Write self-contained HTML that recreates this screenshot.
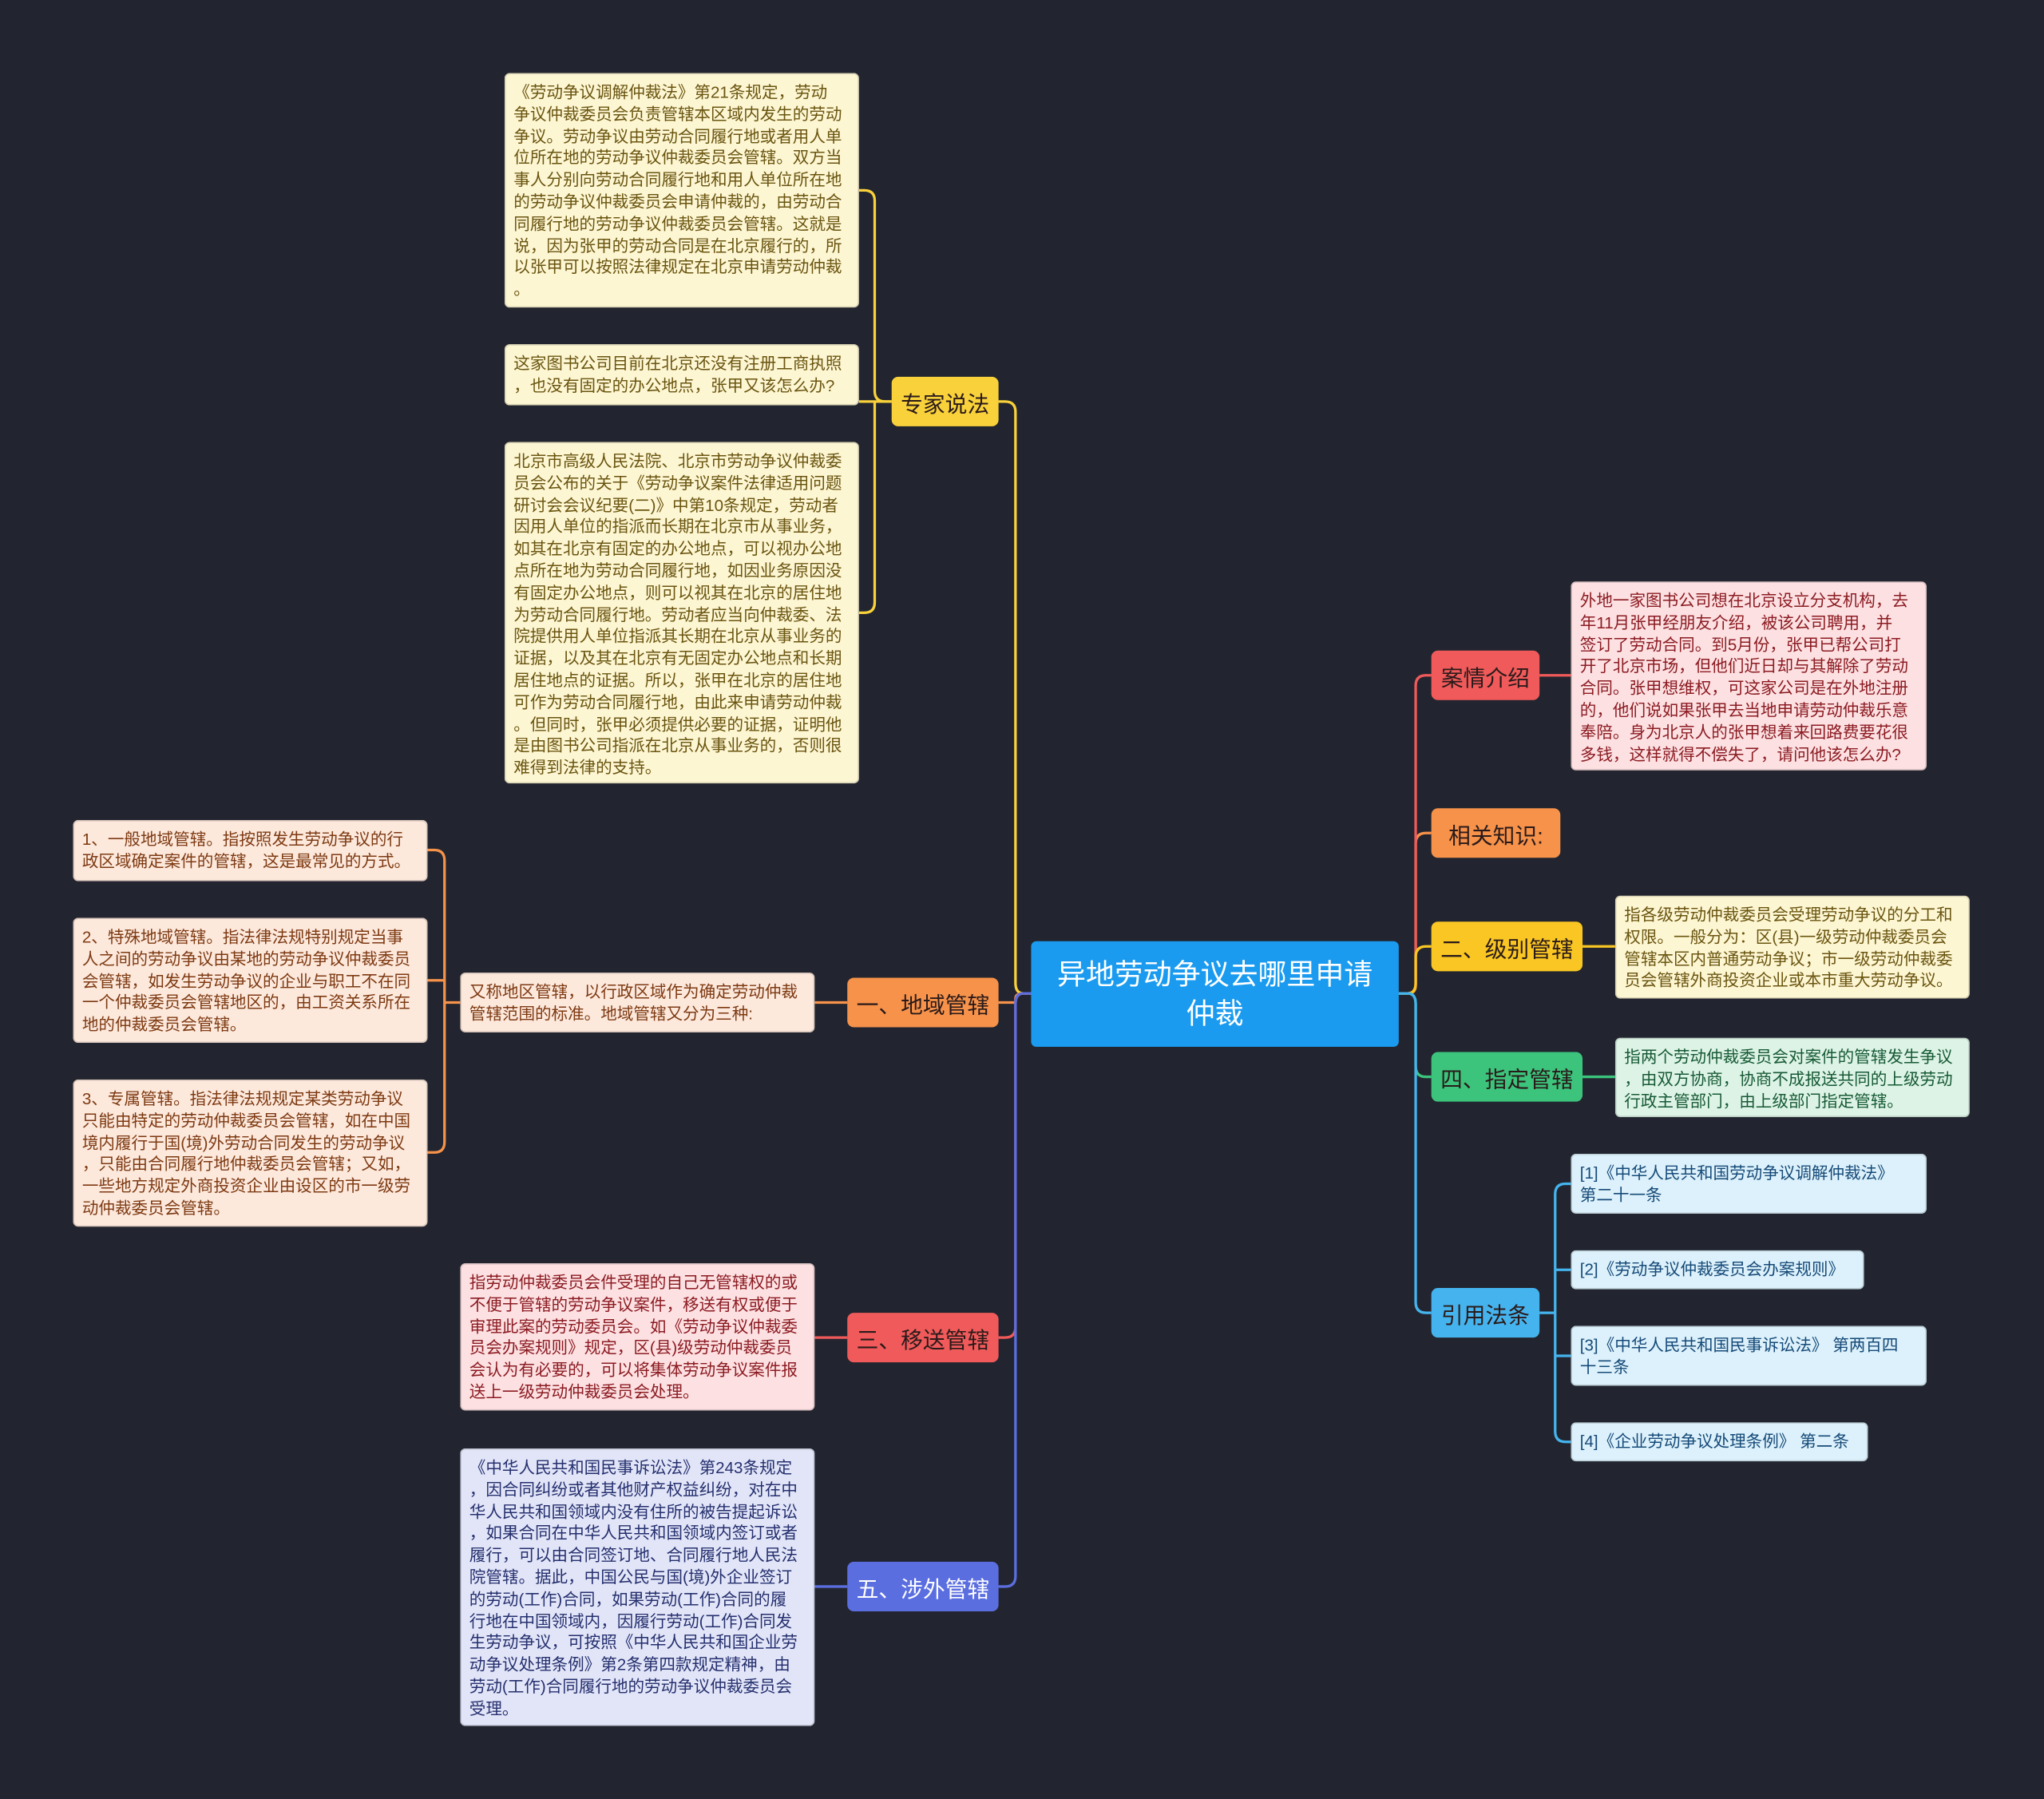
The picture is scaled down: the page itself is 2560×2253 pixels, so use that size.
<!DOCTYPE html>
<html><head><meta charset="utf-8"><style>
html,body{margin:0;padding:0;background:#22252f;width:2560px;height:2253px;overflow:hidden}
#s{position:absolute;left:0;top:0;width:1568px;height:1380px;transform:scale(1.63265);transform-origin:0 0;font-family:"Liberation Sans","Noto Sans CJK SC",sans-serif}
.n{position:absolute;box-sizing:border-box;border-radius:5px;display:flex;align-items:center;justify-content:center;font-size:17px;color:#2a1a1a;white-space:nowrap}
.l{position:absolute;box-sizing:border-box;border-radius:4px;font-size:12.6px;line-height:16.8px;padding:6px 6px;white-space:nowrap;overflow:hidden;border:1px solid rgba(0,0,0,0.15)}
.y{background:#fdf6d3;color:#6a5510}
.o{background:#fde8dc;color:#7d3a12}
.r{background:#fde0e2;color:#8b1c22}
.p{background:#e2e5f8;color:#25306e}
.g{background:#dcf3e6;color:#175a35}
.b{background:#dcf1fb;color:#164a78}
</style></head><body><div id="s">
<svg width="1568" height="1380" style="position:absolute;left:0;top:0" fill="none" stroke-width="2">
<g stroke="#f9d13a">
<path d="M791,762 H785 Q779,762 779,754 V316 Q779,308 771,308 H766"/>
<path d="M684,308 H679 Q671,308 671,300 V154 Q671,146 663,146 H659"/>
<path d="M684,308 H659 M671,308 V462 Q671,470 663,470 H659"/>
</g>
<g stroke="#f6924a">
<path d="M791,762 H785 Q779,762 779,766 V769 H766"/>
<path d="M650,769 H625"/>
<path d="M353,769 H341 V660 Q341,652 333,652 H328 M341,760 V752 H328 M341,769 V876 Q341,884 333,884 H328"/>
<path d="M1073,762 H1080 Q1086,762 1086,756 V647 Q1086,639 1094,639 H1098"/>
</g>
<g stroke="#f05a5a">
<path d="M791,762 H785 Q779,762 779,770 V1018 Q779,1026 771,1026 H766"/>
<path d="M650,1026 H625"/>
<path d="M1073,762 H1080 Q1086,762 1086,754 V526 Q1086,518 1094,518 H1098"/>
<path d="M1181,518 H1205"/>
</g>
<g stroke="#5b6ee0">
<path d="M791,762 H785 Q779,762 779,770 V1209 Q779,1217 771,1217 H766"/>
<path d="M650,1217 H625"/>
</g>
<g stroke="#f9c623">
<path d="M1073,762 H1080 Q1086,762 1086,754 V734 Q1086,726 1094,726 H1098"/>
<path d="M1214,726 H1239"/>
</g>
<g stroke="#3cc47c">
<path d="M1073,762 H1080 Q1086,762 1086,770 V818 Q1086,826 1094,826 H1098"/>
<path d="M1214,826 H1239"/>
</g>
<g stroke="#45b4ee">
<path d="M1073,762 H1080 Q1086,762 1086,770 V999 Q1086,1007 1094,1007 H1098"/>
<path d="M1181,1007 H1193 M1193,1007 V916 Q1193,908 1201,908 H1205 M1193,974 H1205 M1193,1040 H1205 M1193,1007 V1098 Q1193,1106 1201,1106 H1205"/>
</g>
</svg>

<div class="n" style="left:791px;top:722px;width:282px;height:81px;background:#1a9bef;color:#fff;font-size:22px;line-height:30px;white-space:normal;text-align:center;padding:0 12px;border-radius:4px">异地劳动争议去哪里申请<br>仲裁</div>

<div class="n" style="left:684px;top:289px;width:82px;height:38px;background:#f9d13a">专家说法</div>
<div class="n" style="left:650px;top:750px;width:116px;height:38px;background:#f6924a">一、地域管辖</div>
<div class="n" style="left:650px;top:1007px;width:116px;height:38px;background:#f05a5a">三、移送管辖</div>
<div class="n" style="left:650px;top:1198px;width:116px;height:38px;background:#5b6ee0;color:#fff">五、涉外管辖</div>
<div class="n" style="left:1098px;top:499px;width:83px;height:38px;background:#f05a5a">案情介绍</div>
<div class="n" style="left:1098px;top:620px;width:99px;height:38px;background:#f6924a">相关知识:</div>
<div class="n" style="left:1098px;top:707px;width:116px;height:38px;background:#f9c623">二、级别管辖</div>
<div class="n" style="left:1098px;top:807px;width:116px;height:38px;background:#3cc47c">四、指定管辖</div>
<div class="n" style="left:1098px;top:988px;width:83px;height:38px;background:#45b4ee">引用法条</div>

<div class="l y" style="left:387px;top:56px;width:272px;height:180px">《劳动争议调解仲裁法》第21条规定，劳动<br>争议仲裁委员会负责管辖本区域内发生的劳动<br>争议。劳动争议由劳动合同履行地或者用人单<br>位所在地的劳动争议仲裁委员会管辖。双方当<br>事人分别向劳动合同履行地和用人单位所在地<br>的劳动争议仲裁委员会申请仲裁的，由劳动合<br>同履行地的劳动争议仲裁委员会管辖。这就是<br>说，因为张甲的劳动合同是在北京履行的，所<br>以张甲可以按照法律规定在北京申请劳动仲裁<br>。</div>
<div class="l y" style="left:387px;top:264px;width:272px;height:47px">这家图书公司目前在北京还没有注册工商执照<br>，也没有固定的办公地点，张甲又该怎么办?</div>
<div class="l y" style="left:387px;top:339px;width:272px;height:262px">北京市高级人民法院、北京市劳动争议仲裁委<br>员会公布的关于《劳动争议案件法律适用问题<br>研讨会会议纪要(二)》中第10条规定，劳动者<br>因用人单位的指派而长期在北京市从事业务，<br>如其在北京有固定的办公地点，可以视办公地<br>点所在地为劳动合同履行地，如因业务原因没<br>有固定办公地点，则可以视其在北京的居住地<br>为劳动合同履行地。劳动者应当向仲裁委、法<br>院提供用人单位指派其长期在北京从事业务的<br>证据，以及其在北京有无固定办公地点和长期<br>居住地点的证据。所以，张甲在北京的居住地<br>可作为劳动合同履行地，由此来申请劳动仲裁<br>。但同时，张甲必须提供必要的证据，证明他<br>是由图书公司指派在北京从事业务的，否则很<br>难得到法律的支持。</div>

<div class="l o" style="left:353px;top:746px;width:272px;height:46px">又称地区管辖，以行政区域作为确定劳动仲裁<br>管辖范围的标准。地域管辖又分为三种:</div>
<div class="l o" style="left:56px;top:629px;width:272px;height:47px">1、一般地域管辖。指按照发生劳动争议的行<br>政区域确定案件的管辖，这是最常见的方式。</div>
<div class="l o" style="left:56px;top:704px;width:272px;height:96px">2、特殊地域管辖。指法律法规特别规定当事<br>人之间的劳动争议由某地的劳动争议仲裁委员<br>会管辖，如发生劳动争议的企业与职工不在同<br>一个仲裁委员会管辖地区的，由工资关系所在<br>地的仲裁委员会管辖。</div>
<div class="l o" style="left:56px;top:828px;width:272px;height:113px">3、专属管辖。指法律法规规定某类劳动争议<br>只能由特定的劳动仲裁委员会管辖，如在中国<br>境内履行于国(境)外劳动合同发生的劳动争议<br>，只能由合同履行地仲裁委员会管辖；又如，<br>一些地方规定外商投资企业由设区的市一级劳<br>动仲裁委员会管辖。</div>

<div class="l r" style="left:353px;top:969px;width:272px;height:113px">指劳动仲裁委员会件受理的自己无管辖权的或<br>不便于管辖的劳动争议案件，移送有权或便于<br>审理此案的劳动委员会。如《劳动争议仲裁委<br>员会办案规则》规定，区(县)级劳动仲裁委员<br>会认为有必要的，可以将集体劳动争议案件报<br>送上一级劳动仲裁委员会处理。</div>

<div class="l p" style="left:353px;top:1111px;width:272px;height:213px">《中华人民共和国民事诉讼法》第243条规定<br>，因合同纠纷或者其他财产权益纠纷，对在中<br>华人民共和国领域内没有住所的被告提起诉讼<br>，如果合同在中华人民共和国领域内签订或者<br>履行，可以由合同签订地、合同履行地人民法<br>院管辖。据此，中国公民与国(境)外企业签订<br>的劳动(工作)合同，如果劳动(工作)合同的履<br>行地在中国领域内，因履行劳动(工作)合同发<br>生劳动争议，可按照《中华人民共和国企业劳<br>动争议处理条例》第2条第四款规定精神，由<br>劳动(工作)合同履行地的劳动争议仲裁委员会<br>受理。</div>

<div class="l r" style="left:1205px;top:446px;width:273px;height:145px">外地一家图书公司想在北京设立分支机构，去<br>年11月张甲经朋友介绍，被该公司聘用，并<br>签订了劳动合同。到5月份，张甲已帮公司打<br>开了北京市场，但他们近日却与其解除了劳动<br>合同。张甲想维权，可这家公司是在外地注册<br>的，他们说如果张甲去当地申请劳动仲裁乐意<br>奉陪。身为北京人的张甲想着来回路费要花很<br>多钱，这样就得不偿失了，请问他该怎么办?</div>
<div class="l y" style="left:1239px;top:687px;width:272px;height:79px">指各级劳动仲裁委员会受理劳动争议的分工和<br>权限。一般分为：区(县)一级劳动仲裁委员会<br>管辖本区内普通劳动争议；市一级劳动仲裁委<br>员会管辖外商投资企业或本市重大劳动争议。</div>
<div class="l g" style="left:1239px;top:796px;width:272px;height:61px">指两个劳动仲裁委员会对案件的管辖发生争议<br>，由双方协商，协商不成报送共同的上级劳动<br>行政主管部门，由上级部门指定管辖。</div>
<div class="l b" style="left:1205px;top:885px;width:273px;height:46px">[1]《中华人民共和国劳动争议调解仲裁法》<br>第二十一条</div>
<div class="l b" style="left:1205px;top:959px;width:225px;height:30px">[2]《劳动争议仲裁委员会办案规则》</div>
<div class="l b" style="left:1205px;top:1017px;width:273px;height:46px">[3]《中华人民共和国民事诉讼法》 第两百四<br>十三条</div>
<div class="l b" style="left:1205px;top:1091px;width:228px;height:30px">[4]《企业劳动争议处理条例》 第二条</div>
</div></body></html>
